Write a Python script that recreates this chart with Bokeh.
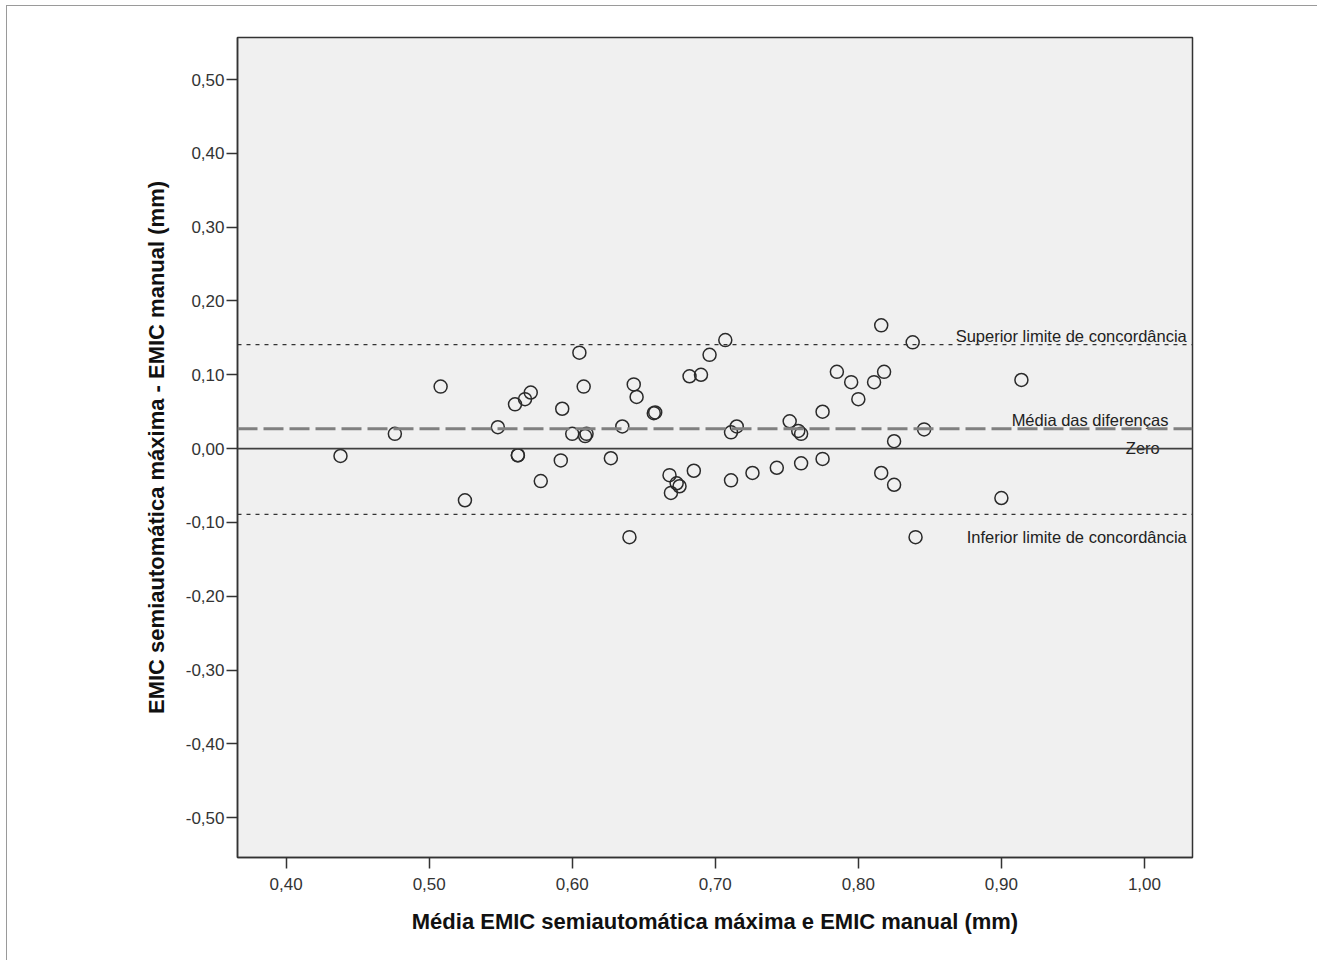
from bokeh.plotting import figure
from bokeh.models import Range1d, FixedTicker, CustomJSTickFormatter, Span, ColumnDataSource
from bokeh.core.properties import value
from bokeh.embed import file_html
from bokeh.resources import INLINE

# data: Bland-Altman points
media = [0.438, 0.476, 0.508, 0.525, 0.548, 0.560, 0.567, 0.571, 0.562, 0.562,
         0.578, 0.593, 0.600, 0.605, 0.608, 0.609, 0.610, 0.592, 0.627, 0.635,
         0.640, 0.643, 0.645, 0.657, 0.658, 0.668, 0.673, 0.675, 0.669, 0.685,
         0.682, 0.690, 0.696, 0.707, 0.711, 0.715, 0.711, 0.726, 0.743, 0.752,
         0.758, 0.760, 0.760, 0.775, 0.775, 0.785, 0.795, 0.800, 0.811, 0.818,
         0.816, 0.838, 0.825, 0.846, 0.816, 0.825, 0.840, 0.900, 0.914]
diferenca = [-0.010, 0.020, 0.084, -0.070, 0.029, 0.060, 0.067, 0.076, -0.009, -0.009,
             -0.044, 0.054, 0.020, 0.130, 0.084, 0.017, 0.020, -0.016, -0.013, 0.030,
             -0.120, 0.087, 0.070, 0.048, 0.049, -0.036, -0.047, -0.051, -0.060, -0.030,
             0.098, 0.100, 0.127, 0.147, 0.022, 0.030, -0.043, -0.033, -0.026, 0.037,
             0.024, 0.020, -0.020, 0.050, -0.014, 0.104, 0.090, 0.067, 0.090, 0.104,
             0.167, 0.144, 0.010, 0.026, -0.033, -0.049, -0.120, -0.067, 0.093]

media_diferencas = 0.027
limite_superior = 0.141
limite_inferior = -0.089
zero = 0.0

x_ticks = [0.4, 0.5, 0.6, 0.7, 0.8, 0.9, 1.0]
y_ticks = [-0.5, -0.4, -0.3, -0.2, -0.1, 0.0, 0.1, 0.2, 0.3, 0.4, 0.5]

ref_labels = ["Superior limite de concordância", "Média das diferenças", "Zero",
              "Inferior limite de concordância"]
ref_values = [limite_superior, media_diferencas, zero, limite_inferior]
ref_label_x = [1.0296, 1.0168, 1.0107, 1.0296]
ref_label_dy = [-9, -9, -1, 23]

x_title = "Média EMIC semiautomática máxima e EMIC manual (mm)"
y_title = "EMIC semiautomática máxima - EMIC manual (mm)"

p = figure(width=1311, height=955, output_backend="svg", toolbar_location=None,
           x_range=Range1d(0.366, 1.0336), y_range=Range1d(-0.554, 0.557),
           min_border_left=230, min_border_right=126, min_border_top=31, min_border_bottom=104)
p.styles = {"margin-left": "6px", "margin-top": "5px",
            "border-left": "1px solid #9a9a9a", "border-top": "1px solid #9a9a9a"}

p.background_fill_color = "#f0f0f0"
p.border_fill_color = "white"
p.outline_line_color = "#333333"
p.outline_line_width = 1.5
p.xgrid.visible = False
p.ygrid.visible = False

fmt = CustomJSTickFormatter(code="return tick.toFixed(2).replace('.', ',');")
for ax, ticks in ((p.xaxis[0], x_ticks), (p.yaxis[0], y_ticks)):
    ax.ticker = FixedTicker(ticks=ticks, minor_ticks=[])
    ax.formatter = fmt
    ax.axis_line_color = "#333333"
    ax.axis_line_width = 1.5
    ax.major_tick_line_color = "#333333"
    ax.major_tick_line_width = 1.5
    ax.major_tick_in = 0
    ax.major_tick_out = 11
    ax.minor_tick_line_color = None
    ax.major_label_text_font = "Liberation Sans"
    ax.major_label_text_font_size = "17px"
    ax.major_label_text_color = "#333333"
    ax.axis_label_text_font = "Liberation Sans"
    ax.axis_label_text_font_style = "bold"
    ax.axis_label_text_font_size = "22px"
    ax.axis_label_text_color = "#111111"

p.xaxis.axis_label = x_title
p.yaxis.axis_label = y_title
p.xaxis.major_label_standoff = 9
p.yaxis.major_label_standoff = 2
p.xaxis.axis_label_standoff = 16
p.yaxis.axis_label_standoff = 14

# reference lines
p.add_layout(Span(location=limite_superior, dimension="width", line_color="#333333",
                  line_width=1.3, line_dash="4 5"))
p.add_layout(Span(location=limite_inferior, dimension="width", line_color="#333333",
                  line_width=1.3, line_dash="4 5"))
p.add_layout(Span(location=media_diferencas, dimension="width", line_color="#808080",
                  line_width=3, line_dash="20 6"))
p.add_layout(Span(location=zero, dimension="width", line_color="#404040", line_width=1.8))

# points
p.scatter(x=media, y=diferenca, marker="circle", size=13, fill_color=None,
          line_color="#2a2a2a", line_width=1.5)

# reference line labels
src = ColumnDataSource(dict(x=ref_label_x, y=ref_values, t=ref_labels, dy=ref_label_dy))
p.text(x="x", y="y", text="t", y_offset="dy", source=src, text_align="right",
       text_baseline="alphabetic", text_font=value("Liberation Sans"),
       text_font_size="16.5px", text_color="#222222")

open("out.html", "w").write(file_html(p, INLINE))
